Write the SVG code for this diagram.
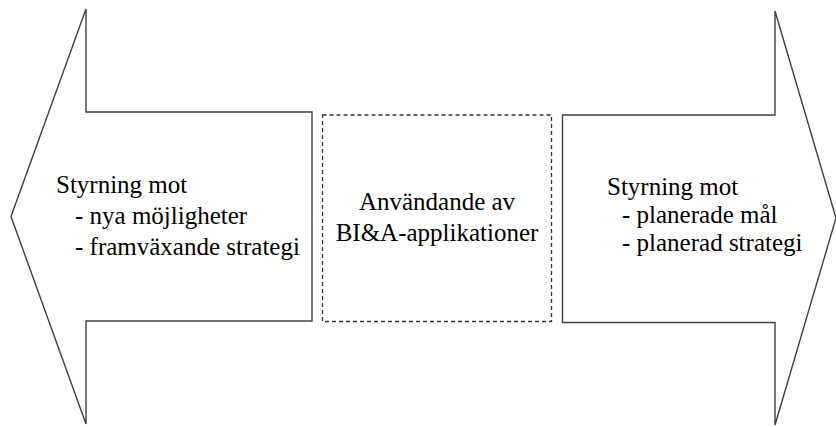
<svg xmlns="http://www.w3.org/2000/svg" width="836" height="427" viewBox="0 0 836 427">
<style>
.shape{fill:#ffffff;stroke:#404040;stroke-width:1.4;stroke-linejoin:miter}
.dash{fill:#ffffff;stroke:#333333;stroke-width:1.3;stroke-dasharray:4 3}
text{font-family:"Liberation Serif","Times New Roman",serif;font-size:25px;fill:#000000}
</style>
<rect x="0" y="0" width="836" height="427" fill="#ffffff"/>
<g id="left-arrow">
<polygon class="shape" points="11,216.5 86,9 86,112 312,112 312,321 86,321 86,424"/>
<text x="56" y="193">Styrning mot</text>
<text x="75" y="224">- nya möjligheter</text>
<text x="75" y="255">- framväxande strategi</text>
</g>
<g id="center-box">
<rect class="dash" x="322.5" y="115" width="229" height="206.5"/>
<text x="437" y="210" text-anchor="middle">Användande av</text>
<text x="437" y="241" text-anchor="middle">BI&amp;A-applikationer</text>
</g>
<g id="right-arrow">
<polygon class="shape" points="562.5,115 775,115 775,11 836,218 775,425 775,322.5 562.5,322.5"/>
<text x="607" y="195">Styrning mot</text>
<text x="622" y="223">- planerade mål</text>
<text x="622" y="251">- planerad strategi</text>
</g>
<g id="connectors"/>
</svg>
